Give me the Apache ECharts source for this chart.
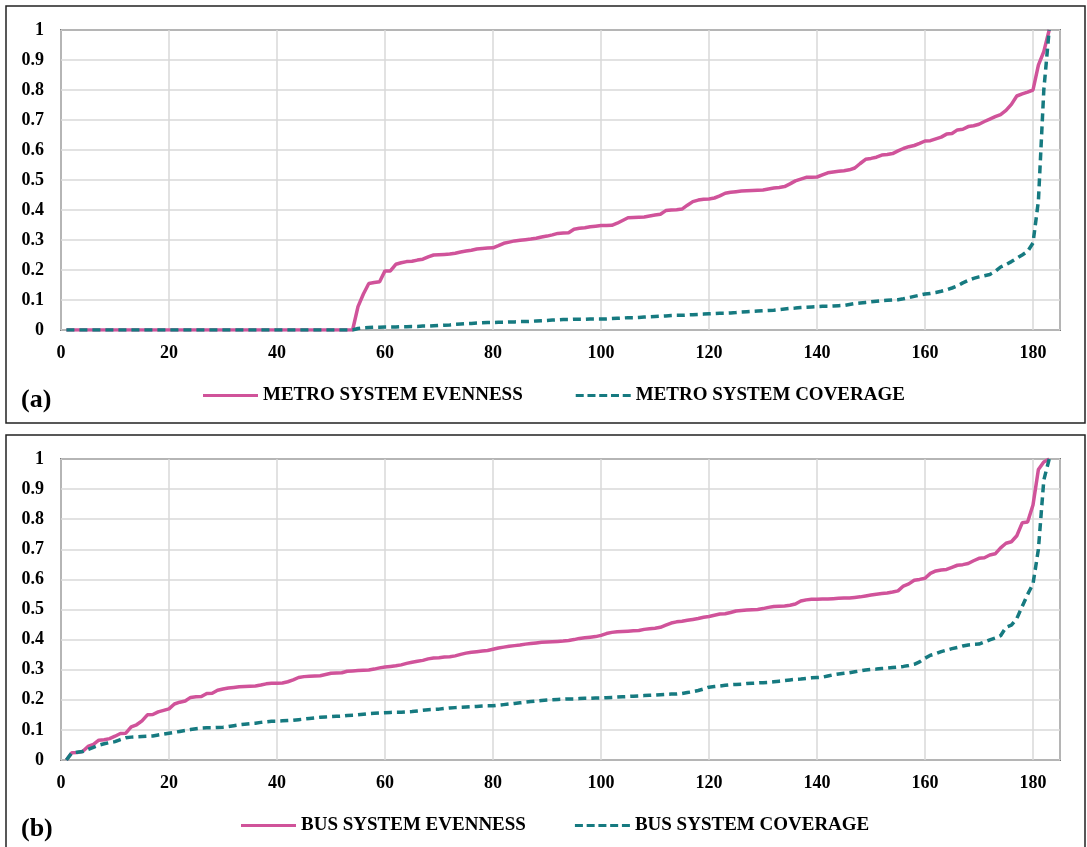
<!DOCTYPE html>
<html>
<head>
<meta charset="utf-8">
<script src="https://cdn.jsdelivr.net/npm/echarts@6/dist/echarts.min.js"></script>
<style>
  html, body { margin: 0; padding: 0; background: #fff; }
  #chart { width: 1087px; height: 847px; }
</style>
</head>
<body>
<div id="chart"></div>
<script>
// Ranked values per zone (rank 1..183)
const metroEvenness = [
  0,0,0,0,0,0,0,0,0,0,
  0,0,0,0,0,0,0,0,0,0,
  0,0,0,0,0,0,0,0,0,0,
  0,0,0,0,0,0,0,0,0,0,
  0,0,0,0,0,0,0,0,0,0,
  0,0,0,0,
  0.078,0.12,0.155,0.158,0.161,0.197,0.197,0.219,0.224,0.228,
  0.229,0.233,0.236,0.244,0.25,0.251,0.252,0.253,0.256,0.26,
  0.263,0.266,0.27,0.272,0.273,0.274,0.281,0.289,0.293,0.297,
  0.299,0.301,0.303,0.306,0.31,0.313,0.317,0.322,0.323,0.324,
  0.336,0.339,0.341,0.344,0.346,0.348,0.348,0.349,0.356,0.365,
  0.374,0.375,0.376,0.377,0.38,0.383,0.386,0.398,0.4,0.401,
  0.403,0.416,0.428,0.433,0.436,0.437,0.44,0.447,0.456,0.459,
  0.461,0.463,0.464,0.465,0.466,0.467,0.47,0.473,0.475,0.478,
  0.487,0.497,0.503,0.509,0.509,0.51,0.517,0.524,0.527,0.529,
  0.531,0.534,0.54,0.555,0.569,0.572,0.576,0.583,0.585,0.588,
  0.597,0.605,0.611,0.615,0.622,0.63,0.631,0.637,0.643,0.653,
  0.655,0.667,0.669,0.678,0.681,0.686,0.695,0.703,0.711,0.718,
  0.732,0.752,0.78,0.787,0.793,0.8,0.883,0.928,1.0
];
const metroCoverage = [
  0,0,0,0,0,0,0,0,0,0,
  0,0,0,0,0,0,0,0,0,0,
  0,0,0,0,0,0,0,0,0,0,
  0,0,0,0,0,0,0,0,0,0,
  0,0,0,0,0,0,0,0,0,0,
  0,0,0,0,
  0.005,0.007,0.008,0.009,0.009,0.01,0.01,0.01,0.011,0.011,
  0.012,0.012,0.013,0.013,0.014,0.015,0.016,0.017,0.019,0.02,
  0.021,0.022,0.023,0.024,0.025,0.025,0.026,0.026,0.027,0.027,
  0.028,0.028,0.029,0.03,0.031,0.032,0.033,0.034,0.035,0.035,
  0.036,0.036,0.036,0.037,0.037,0.037,0.037,0.038,0.039,0.04,
  0.041,0.041,0.042,0.043,0.044,0.045,0.046,0.047,0.048,0.049,
  0.049,0.05,0.051,0.052,0.053,0.054,0.055,0.056,0.056,0.057,
  0.058,0.06,0.061,0.062,0.063,0.064,0.065,0.066,0.068,0.07,
  0.072,0.073,0.075,0.076,0.077,0.078,0.079,0.079,0.08,0.081,
  0.082,0.085,0.088,0.09,0.092,0.094,0.096,0.098,0.099,0.1,
  0.101,0.104,0.108,0.112,0.116,0.12,0.122,0.125,0.129,0.134,
  0.14,0.147,0.157,0.165,0.172,0.177,0.181,0.185,0.195,0.21,
  0.218,0.228,0.239,0.25,0.262,0.29,0.43,0.8,1.0
];
const busEvenness = [
  0,0.024,0.025,0.028,0.045,0.052,0.066,0.067,0.071,0.079,
  0.088,0.089,0.11,0.117,0.13,0.15,0.151,0.16,0.165,0.17,
  0.186,0.192,0.196,0.208,0.21,0.211,0.221,0.222,0.232,0.236,
  0.239,0.241,0.243,0.244,0.245,0.246,0.249,0.253,0.255,0.255,
  0.256,0.26,0.266,0.274,0.277,0.278,0.279,0.28,0.284,0.288,
  0.289,0.29,0.295,0.296,0.297,0.298,0.299,0.302,0.306,0.309,
  0.311,0.313,0.316,0.321,0.325,0.328,0.331,0.336,0.339,0.34,
  0.342,0.343,0.346,0.351,0.355,0.358,0.36,0.362,0.364,0.368,
  0.372,0.375,0.378,0.38,0.382,0.385,0.387,0.389,0.391,0.392,
  0.393,0.394,0.395,0.397,0.4,0.404,0.406,0.408,0.41,0.414,
  0.42,0.424,0.426,0.427,0.428,0.429,0.43,0.434,0.436,0.438,
  0.441,0.448,0.455,0.459,0.461,0.464,0.467,0.47,0.474,0.477,
  0.481,0.485,0.486,0.49,0.495,0.497,0.498,0.499,0.5,0.503,
  0.507,0.51,0.511,0.512,0.514,0.518,0.528,0.532,0.534,0.534,
  0.535,0.535,0.536,0.537,0.538,0.538,0.54,0.542,0.545,0.548,
  0.551,0.553,0.555,0.558,0.562,0.578,0.585,0.597,0.6,0.604,
  0.62,0.628,0.631,0.633,0.64,0.647,0.649,0.653,0.662,0.67,
  0.672,0.681,0.685,0.705,0.72,0.725,0.745,0.788,0.791,0.847,
  0.965,0.99,1.0
];
const busCoverage = [
  0,0.024,0.026,0.028,0.035,0.042,0.049,0.054,0.058,0.061,
  0.068,0.074,0.076,0.077,0.078,0.079,0.08,0.083,0.086,0.089,
  0.092,0.095,0.098,0.101,0.104,0.106,0.107,0.107,0.108,0.109,
  0.111,0.114,0.117,0.119,0.121,0.122,0.125,0.127,0.129,0.129,
  0.13,0.131,0.132,0.134,0.136,0.138,0.14,0.142,0.143,0.144,
  0.145,0.146,0.148,0.149,0.15,0.152,0.154,0.155,0.156,0.157,
  0.158,0.159,0.159,0.16,0.161,0.163,0.165,0.167,0.168,0.169,
  0.171,0.173,0.174,0.175,0.176,0.177,0.178,0.179,0.18,0.18,
  0.182,0.184,0.186,0.188,0.19,0.192,0.194,0.196,0.198,0.199,
  0.2,0.201,0.202,0.203,0.203,0.204,0.205,0.205,0.206,0.206,
  0.207,0.208,0.209,0.21,0.211,0.212,0.213,0.214,0.215,0.216,
  0.217,0.218,0.219,0.219,0.221,0.224,0.227,0.231,0.236,0.242,
  0.244,0.246,0.248,0.25,0.251,0.252,0.254,0.255,0.256,0.257,
  0.258,0.26,0.262,0.264,0.266,0.268,0.269,0.271,0.273,0.274,
  0.275,0.279,0.283,0.286,0.288,0.29,0.293,0.296,0.299,0.301,
  0.302,0.304,0.305,0.307,0.309,0.311,0.314,0.318,0.326,0.338,
  0.348,0.353,0.36,0.365,0.37,0.374,0.379,0.382,0.384,0.385,
  0.392,0.399,0.405,0.413,0.441,0.448,0.47,0.51,0.55,0.585,
  0.7,0.93,1.0
];

const seriesNames = {
  metroEven: 'METRO SYSTEM EVENNESS',
  metroCov: 'METRO SYSTEM COVERAGE',
  busEven: 'BUS SYSTEM EVENNESS',
  busCov: 'BUS SYSTEM COVERAGE'
};
const panelLabels = ['(a)', '(b)'];

const PINK = '#d0539a';
const TEAL = '#167a80';
const FONT = '"Liberation Serif", "Times New Roman", serif';

// legend keys: a plain bar for solid lines, five short bars for dashed lines
const SOLID_KEY = 'rect';
const DASH_KEY = 'path://M0,0h8v3h-8z M11.75,0h8v3h-8z M23.5,0h8v3h-8z M35.25,0h8v3h-8z M47,0h8v3h-8z';

const toPoints = arr => arr.map((v, i) => [i + 1, v]);

const xAxisBase = {
  type: 'value', min: 0, max: 185, interval: 20,
  axisLine: { show: false },
  axisTick: { show: false },
  axisLabel: {
    color: '#000', fontFamily: FONT, fontWeight: 'bold', fontSize: 18, margin: 14,
    showMaxLabel: false,
    formatter: v => (v % 20 === 0 ? String(v) : '')
  },
  splitLine: { show: true, lineStyle: { color: '#d9d9d9', width: 1.5 } }
};
const yAxisBase = {
  type: 'value', min: 0, max: 1, interval: 0.1,
  axisLine: { show: false },
  axisTick: { show: false },
  axisLabel: {
    color: '#000', fontFamily: FONT, fontWeight: 'bold', fontSize: 18, margin: 17,
    formatter: v => String(Math.round(v * 10) / 10)
  },
  splitLine: { show: true, lineStyle: { color: '#d9d9d9', width: 1.5 } }
};

function lineSeries(name, values, color, dashed, idx) {
  return {
    name, type: 'line', xAxisIndex: idx, yAxisIndex: idx,
    data: toPoints(values),
    symbol: 'none', smooth: false,
    lineStyle: { color, width: 3.5, type: dashed ? [8, 5] : 'solid' },
    itemStyle: { color },
    z: dashed ? 3 : 2
  };
}

const legendText = { color: '#000', fontFamily: FONT, fontWeight: 'bold', fontSize: 19 };

const option = {
  animation: false,
  backgroundColor: '#fff',
  grid: [
    { left: 61, top: 30, width: 999, height: 300, show: true, borderColor: '#111', borderWidth: 1.5 },
    { left: 61, top: 459, width: 999, height: 301, show: true, borderColor: '#111', borderWidth: 1.5 }
  ],
  xAxis: [
    Object.assign({ gridIndex: 0 }, xAxisBase),
    Object.assign({ gridIndex: 1 }, xAxisBase)
  ],
  yAxis: [
    Object.assign({ gridIndex: 0 }, yAxisBase),
    Object.assign({ gridIndex: 1 }, yAxisBase)
  ],
  legend: [
    {
      data: [
        { name: seriesNames.metroEven, icon: SOLID_KEY },
        { name: seriesNames.metroCov, icon: DASH_KEY }
      ],
      left: 203, top: 386, padding: 0, itemWidth: 55, itemHeight: 3, itemGap: 53,
      textStyle: legendText
    },
    {
      data: [
        { name: seriesNames.busEven, icon: SOLID_KEY },
        { name: seriesNames.busCov, icon: DASH_KEY }
      ],
      left: 241, top: 816, padding: 0, itemWidth: 55, itemHeight: 3, itemGap: 49,
      textStyle: legendText
    }
  ],
  graphic: [
    { type: 'rect', shape: { x: 6, y: 6, width: 1079, height: 417 },
      style: { fill: 'none', stroke: '#222', lineWidth: 1.5 }, silent: true },
    { type: 'rect', shape: { x: 6, y: 435, width: 1079, height: 420 },
      style: { fill: 'none', stroke: '#222', lineWidth: 1.5 }, silent: true },
    { type: 'text', left: 21, top: 387,
      style: { text: panelLabels[0], fill: '#000', font: 'bold 26px ' + FONT } },
    { type: 'text', left: 21, top: 816,
      style: { text: panelLabels[1], fill: '#000', font: 'bold 26px ' + FONT } }
  ],
  series: [
    lineSeries(seriesNames.metroEven, metroEvenness, PINK, false, 0),
    lineSeries(seriesNames.metroCov, metroCoverage, TEAL, true, 0),
    lineSeries(seriesNames.busEven, busEvenness, PINK, false, 1),
    lineSeries(seriesNames.busCov, busCoverage, TEAL, true, 1)
  ]
};

echarts.init(document.getElementById('chart'), null, { renderer: 'canvas' }).setOption(option);
</script>
</body>
</html>
